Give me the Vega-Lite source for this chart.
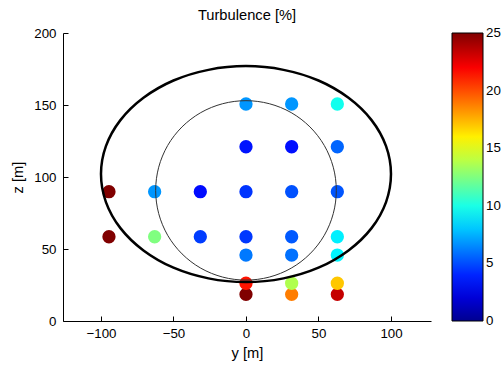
{
  "$schema": "https://vega.github.io/schema/vega-lite/v6.json",
  "width": 368,
  "height": 288,
  "autosize": {"type": "none"},
  "padding": {"left": 63, "top": 33, "right": 71, "bottom": 45},
  "background": "white",
  "config": {"view": {"stroke": null}, "font": "Liberation Sans"},
  "title": {"text": "Turbulence [%]", "fontSize": 14.7, "fontWeight": "normal", "font": "Liberation Sans", "color": "black", "offset": 12, "baseline": "alphabetic", "anchor": "middle", "frame": "group", "dy": 21},
  "datasets": {
    "points": [
      {"y": 0, "z": 18.5, "turbulence": 25},
      {"y": 31.5, "z": 18.5, "turbulence": 18.8},
      {"y": 63, "z": 18.5, "turbulence": 23.3},
      {"y": 0, "z": 26.2, "turbulence": 21.4},
      {"y": 31.5, "z": 26.2, "turbulence": 13.7},
      {"y": 63, "z": 26.2, "turbulence": 17.0},
      {"y": 0, "z": 45.8, "turbulence": 6.1},
      {"y": 31.5, "z": 45.8, "turbulence": 5.9},
      {"y": 63, "z": 45.8, "turbulence": 9.1},
      {"y": -94.5, "z": 58.5, "turbulence": 25},
      {"y": -63, "z": 58.5, "turbulence": 12.5},
      {"y": -31.5, "z": 58.5, "turbulence": 4.6},
      {"y": 0, "z": 58.5, "turbulence": 4.5},
      {"y": 31.5, "z": 58.5, "turbulence": 5.3},
      {"y": 63, "z": 58.5, "turbulence": 9.0},
      {"y": -94.5, "z": 89.8, "turbulence": 25},
      {"y": -63, "z": 89.8, "turbulence": 6.8},
      {"y": -31.5, "z": 89.8, "turbulence": 3.4},
      {"y": 0, "z": 89.8, "turbulence": 4.4},
      {"y": 31.5, "z": 89.8, "turbulence": 5.1},
      {"y": 63, "z": 89.8, "turbulence": 5.2},
      {"y": 0, "z": 121, "turbulence": 3.6},
      {"y": 31.5, "z": 121, "turbulence": 3.5},
      {"y": 63, "z": 121, "turbulence": 5.6},
      {"y": 0, "z": 150.7, "turbulence": 6.8},
      {"y": 31.5, "z": 150.7, "turbulence": 6.8},
      {"y": 63, "z": 150.7, "turbulence": 9.8}
    ],
    "outer": [
      {"i": 0, "y": 100, "z": 102},
      {"i": 1, "y": 96.6, "z": 121.4},
      {"i": 2, "y": 86.6, "z": 139.5},
      {"i": 3, "y": 70.7, "z": 155.0},
      {"i": 4, "y": 50, "z": 167.0},
      {"i": 5, "y": 25.9, "z": 174.4},
      {"i": 6, "y": 0, "z": 177},
      {"i": 7, "y": -25.9, "z": 174.4},
      {"i": 8, "y": -50, "z": 167.0},
      {"i": 9, "y": -70.7, "z": 155.0},
      {"i": 10, "y": -86.6, "z": 139.5},
      {"i": 11, "y": -96.6, "z": 121.4},
      {"i": 12, "y": -100, "z": 102},
      {"i": 13, "y": -96.6, "z": 82.6},
      {"i": 14, "y": -86.6, "z": 64.5},
      {"i": 15, "y": -70.7, "z": 49.0},
      {"i": 16, "y": -50, "z": 37.0},
      {"i": 17, "y": -25.9, "z": 29.6},
      {"i": 18, "y": 0, "z": 27},
      {"i": 19, "y": 25.9, "z": 29.6},
      {"i": 20, "y": 50, "z": 37.0},
      {"i": 21, "y": 70.7, "z": 49.0},
      {"i": 22, "y": 86.6, "z": 64.5},
      {"i": 23, "y": 96.6, "z": 82.6}
    ],
    "inner": [
      {"i": 0, "y": 62.3, "z": 90.7},
      {"i": 1, "y": 60.2, "z": 106.8},
      {"i": 2, "y": 54.0, "z": 121.9},
      {"i": 3, "y": 44.1, "z": 134.8},
      {"i": 4, "y": 31.2, "z": 144.7},
      {"i": 5, "y": 16.1, "z": 150.9},
      {"i": 6, "y": 0, "z": 153.0},
      {"i": 7, "y": -16.1, "z": 150.9},
      {"i": 8, "y": -31.2, "z": 144.7},
      {"i": 9, "y": -44.1, "z": 134.8},
      {"i": 10, "y": -54.0, "z": 121.9},
      {"i": 11, "y": -60.2, "z": 106.8},
      {"i": 12, "y": -62.3, "z": 90.7},
      {"i": 13, "y": -60.2, "z": 74.6},
      {"i": 14, "y": -54.0, "z": 59.5},
      {"i": 15, "y": -44.1, "z": 46.6},
      {"i": 16, "y": -31.2, "z": 36.7},
      {"i": 17, "y": -16.1, "z": 30.5},
      {"i": 18, "y": 0, "z": 28.4},
      {"i": 19, "y": 16.1, "z": 30.5},
      {"i": 20, "y": 31.2, "z": 36.7},
      {"i": 21, "y": 44.1, "z": 46.6},
      {"i": 22, "y": 54.0, "z": 59.5},
      {"i": 23, "y": 60.2, "z": 74.6}
    ]
  },
  "encoding": {
    "x": {
      "field": "y", "type": "quantitative",
      "scale": {"domain": [-126.2, 127.6], "nice": false, "zero": false},
      "axis": {"title": "y [m]", "values": [-100, -50, 0, 50, 100], "grid": false, "tickSize": -5, "labelPadding": 10,
        "domainColor": "black", "tickColor": "black", "labelColor": "black", "titleColor": "black",
        "labelFont": "Liberation Sans", "labelFontSize": 13.3, "titleFont": "Liberation Sans", "titleFontSize": 14.7, "titleFontWeight": "normal", "titlePadding": 6}
    },
    "y": {
      "field": "z", "type": "quantitative",
      "scale": {"domain": [0, 200], "nice": false, "zero": false},
      "axis": {"title": "z [m]", "values": [0, 50, 100, 150, 200], "grid": false, "tickSize": -5, "labelPadding": 12,
        "domainColor": "black", "tickColor": "black", "labelColor": "black", "titleColor": "black",
        "labelFont": "Liberation Sans", "labelFontSize": 13.3, "titleFont": "Liberation Sans", "titleFontSize": 14.7, "titleFontWeight": "normal", "titlePadding": 8}
    }
  },
  "layer": [
    {
      "data": {"name": "points"},
      "mark": {"type": "circle", "size": 177, "opacity": 1},
      "encoding": {
        "color": {
          "field": "turbulence", "type": "quantitative",
          "scale": {"domain": [0, 3.125, 9.375, 15.625, 21.875, 25], "range": ["#000090", "#0000ff", "#00ffff", "#ffff00", "#ff0000", "#800000"], "interpolate": "rgb"},
          "legend": {"title": null, "orient": "none", "legendX": 389, "legendY": 0, "direction": "vertical", "gradientLength": 288, "gradientThickness": 31,
            "gradientStrokeColor": "black", "gradientStrokeWidth": 1, "values": [0.001, 5, 10, 15, 20, 24.999], "labelOverlap": false,
            "labelExpr": "format(round(datum.value), 'd')",
            "labelFont": "Liberation Sans", "labelFontSize": 13.3, "labelColor": "black", "labelOffset": 3, "padding": 0}
        }
      }
    },
    {
      "data": {"name": "outer"},
      "mark": {"type": "line", "interpolate": "cardinal-closed", "color": "black", "strokeWidth": 2.5},
      "encoding": {"order": {"field": "i", "type": "quantitative"}}
    },
    {
      "data": {"name": "inner"},
      "mark": {"type": "line", "interpolate": "cardinal-closed", "color": "#333333", "strokeWidth": 1},
      "encoding": {"order": {"field": "i", "type": "quantitative"}}
    }
  ]
}
